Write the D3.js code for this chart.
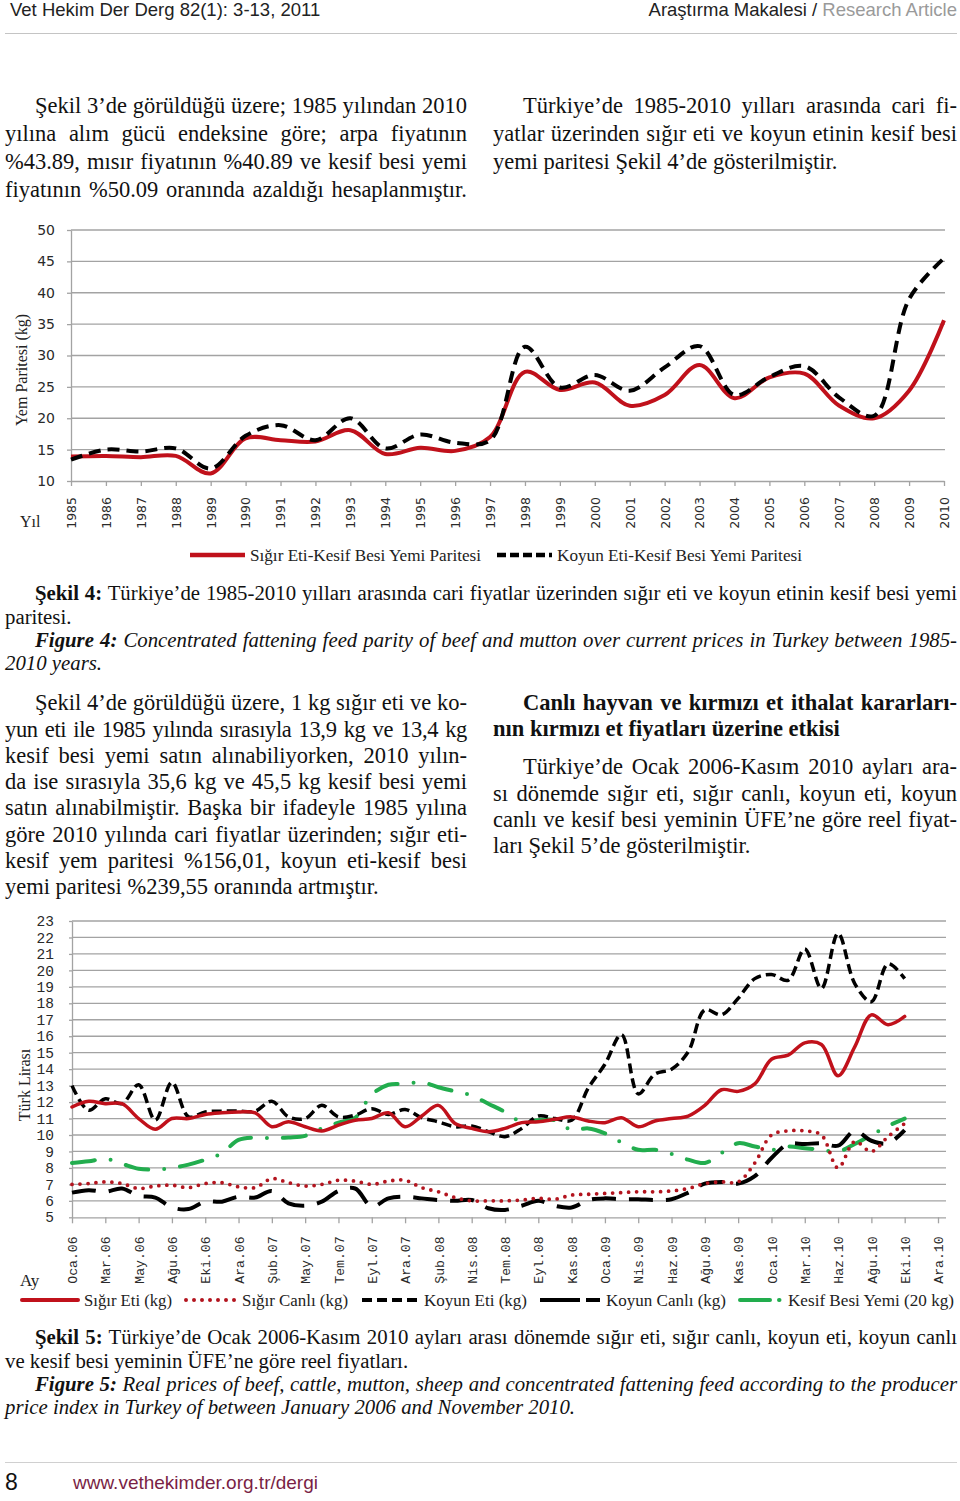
<!DOCTYPE html>
<html>
<head>
<meta charset="utf-8">
<script src="https://cdn.jsdelivr.net/npm/d3@7"></script>
<style>
  body { margin: 0; background: #fff; }
  #page { position: relative; width: 960px; height: 1501px; overflow: hidden; font-family: "Liberation Serif", serif; color: #111; }
  #page svg { position: absolute; left: 0; top: 0; }
  .ln { position: absolute; font-size: 22.5px; line-height: 22px; text-align: justify; text-align-last: justify; }
  .lf { text-align-last: left; }
  .cap { font-size: 20.8px; line-height: 20px; }
  .hd { position: absolute; font-family: "Liberation Sans", sans-serif; font-size: 18.5px; line-height: 18px; color: #222; }
  .rule { position: absolute; left: 5px; width: 952px; height: 0; border-top: 1.5px solid #c4c4c4; }
</style>
</head>
<body>
<div id="page">
  <div class="hd" style="left:10px;top:1px">Vet Hekim Der Derg 82(1): 3-13, 2011</div>
  <div class="hd" style="right:3px;top:1px">Araştırma Makalesi / <span style="color:#9a9a9a">Research Article</span></div>
  <div class="rule" style="top:33px"></div>

  <div class="ln" style="left:35px;width:432px;top:95px">Şekil 3’de görüldüğü üzere; 1985 yılından 2010</div>
  <div class="ln" style="left:5px;width:462px;top:123px">yılına alım gücü endeksine göre; arpa fiyatının</div>
  <div class="ln" style="left:5px;width:462px;top:151px">%43.89, mısır fiyatının %40.89 ve kesif besi yemi</div>
  <div class="ln" style="left:5px;width:462px;top:179px">fiyatının %50.09 oranında azaldığı hesaplanmıştır.</div>

  <div class="ln" style="left:523px;width:434px;top:95px">Türkiye’de 1985-2010 yılları arasında cari fi-</div>
  <div class="ln" style="left:493px;width:464px;top:123px">yatlar üzerinden sığır eti ve koyun etinin kesif besi</div>
  <div class="ln lf" style="left:493px;width:464px;top:151px">yemi paritesi Şekil 4’de gösterilmiştir.</div>

  <div class="ln cap" style="left:35px;width:922px;top:583px"><b>Şekil 4:</b> Türkiye’de 1985-2010 yılları arasında cari fiyatlar üzerinden sığır eti ve koyun etinin kesif besi yemi</div>
  <div class="ln cap lf" style="left:5px;width:952px;top:607px">paritesi.</div>
  <div class="ln cap" style="left:35px;width:922px;top:630px"><i><b>Figure 4:</b> Concentrated fattening feed parity of beef and mutton over current prices in Turkey between 1985-</i></div>
  <div class="ln cap lf" style="left:5px;width:952px;top:653px"><i>2010 years.</i></div>

  <div class="ln" style="left:35px;width:432px;top:692px">Şekil 4’de görüldüğü üzere, 1 kg sığır eti ve ko-</div>
  <div class="ln" style="left:5px;width:462px;top:719px;letter-spacing:-0.35px">yun eti ile 1985 yılında sırasıyla 13,9 kg ve 13,4 kg</div>
  <div class="ln" style="left:5px;width:462px;top:745px">kesif besi yemi satın alınabiliyorken, 2010 yılın-</div>
  <div class="ln" style="left:5px;width:462px;top:771px">da ise sırasıyla 35,6 kg ve 45,5 kg kesif besi yemi</div>
  <div class="ln" style="left:5px;width:462px;top:797px">satın alınabilmiştir. Başka bir ifadeyle 1985 yılına</div>
  <div class="ln" style="left:5px;width:462px;top:824px">göre 2010 yılında cari fiyatlar üzerinden; sığır eti-</div>
  <div class="ln" style="left:5px;width:462px;top:850px">kesif yem paritesi %156,01, koyun eti-kesif besi</div>
  <div class="ln lf" style="left:5px;width:462px;top:876px">yemi paritesi %239,55 oranında artmıştır.</div>

  <div class="ln" style="left:523px;width:434px;top:692px"><b>Canlı hayvan ve kırmızı et ithalat kararları-</b></div>
  <div class="ln lf" style="left:493px;width:464px;top:718px"><b>nın kırmızı et fiyatları üzerine etkisi</b></div>
  <div class="ln" style="left:523px;width:434px;top:756px">Türkiye’de Ocak 2006-Kasım 2010 ayları ara-</div>
  <div class="ln" style="left:493px;width:464px;top:783px">sı dönemde sığır eti, sığır canlı, koyun eti, koyun</div>
  <div class="ln" style="left:493px;width:464px;top:809px">canlı ve kesif besi yeminin ÜFE’ne göre reel fiyat-</div>
  <div class="ln lf" style="left:493px;width:464px;top:835px">ları Şekil 5’de gösterilmiştir.</div>

  <div class="ln cap" style="left:35px;width:922px;top:1327px"><b>Şekil 5:</b> Türkiye’de Ocak 2006-Kasım 2010 ayları arası dönemde sığır eti, sığır canlı, koyun eti, koyun canlı</div>
  <div class="ln cap lf" style="left:5px;width:952px;top:1351px">ve kesif besi yeminin ÜFE’ne göre reel fiyatları.</div>
  <div class="ln cap" style="left:35px;width:922px;top:1374px"><i><b>Figure 5:</b> Real prices of beef, cattle, mutton, sheep and concentrated fattening feed according to the producer</i></div>
  <div class="ln cap lf" style="left:5px;width:952px;top:1397px"><i>price index in Turkey of between January 2006 and November 2010.</i></div>

  <div class="rule" style="top:1462px;border-top-color:#d0d0d0"></div>
  <div class="hd" style="left:5px;top:1471px;font-size:23px;line-height:23px;color:#111">8</div>
  <div class="hd" style="left:73px;top:1474px;font-size:19px;color:#7a1f45">www.vethekimder.org.tr/dergi</div>
</div>

<script>
// Şekil 4 - yem paritesi (kg)
let years = ["1985","1986","1987","1988","1989","1990","1991","1992","1993","1994","1995","1996","1997",
             "1998","1999","2000","2001","2002","2003","2004","2005","2006","2007","2008","2009","2010"];
let sigirParite = [13.9, 14.0, 13.8, 14.0, 11.2, 16.8, 16.5, 16.3, 18.1, 14.3, 15.3, 14.8, 17.0,
                   27.4, 24.5, 25.7, 22.0, 23.7, 28.5, 23.2, 26.5, 27.1, 22.0, 20.0, 24.4, 35.6];
let koyunParite = [13.4, 15.0, 14.7, 15.2, 12.0, 17.2, 18.9, 16.5, 20.0, 15.2, 17.4, 16.1, 16.5,
                   31.4, 24.9, 26.9, 24.4, 28.1, 31.5, 23.7, 26.6, 28.3, 23.3, 20.4, 39.0, 45.5];
let parityTicks = [10, 15, 20, 25, 30, 35, 40, 45, 50];

// Şekil 5 - reel fiyatlar (TL)
let monthLabels = ["Oca.06","Mar.06","May.06","Ağu.06","Eki.06","Ara.06","Şub.07","May.07","Tem.07","Eyl.07",
                   "Ara.07","Şub.08","Nis.08","Tem.08","Eyl.08","Kas.08","Oca.09","Nis.09","Haz.09","Ağu.09",
                   "Kas.09","Oca.10","Mar.10","Haz.10","Ağu.10","Eki.10","Ara.10"];
let sigirEti = [11.7, 12.05, 11.9, 11.9, 11.0, 10.35, 11.0, 11.0, 11.25, 11.35,
                11.4, 11.35, 10.5, 10.8, 10.5, 10.25, 10.6, 10.9, 11.0, 11.35,
                10.5, 11.15, 11.8, 10.7, 10.4, 10.2, 10.4, 10.75, 10.8, 10.95,
                11.1, 10.85, 10.75, 11.05, 10.5, 10.85, 11.0, 11.15, 11.8, 12.75,
                12.65, 13.1, 14.6, 14.85, 15.6, 15.5, 13.6, 15.35, 17.3, 16.7,
                17.2];
let sigirCanli = [7.0, 7.05, 7.15, 7.05, 6.75, 6.9, 6.95, 6.8, 7.05, 7.1,
                  6.85, 6.8, 7.35, 7.1, 6.9, 7.0, 7.25, 7.2, 7.0, 7.2,
                  7.25, 6.8, 6.55, 6.2, 6.0, 6.0, 6.0, 6.05, 6.15, 6.1,
                  6.35, 6.4, 6.45, 6.5, 6.55, 6.55, 6.6, 6.75, 7.05, 7.15,
                  7.15, 8.3, 10.0, 10.25, 10.25, 10.0, 8.0, 9.6, 9.0, 9.9,
                  10.7];
let koyunEti = [13.0, 11.5, 12.2, 11.9, 13.05, 10.9, 13.2, 11.1, 11.4, 11.45,
                11.45, 11.45, 12.05, 11.1, 11.0, 11.8, 11.1, 11.2, 11.6, 11.25,
                11.55, 11.05, 10.8, 10.5, 10.55, 10.2, 9.9, 10.4, 11.15, 11.0,
                10.9, 12.85, 14.3, 16.1, 12.5, 13.7, 14.0, 15.05, 17.6, 17.3,
                18.3, 19.5, 19.75, 19.4, 21.3, 18.9, 22.25, 19.2, 18.1, 20.4,
                19.5];
let koyunCanli = [6.5, 6.65, 6.55, 6.75, 6.3, 6.2, 5.6, 5.5, 5.95, 5.95,
                  6.25, 6.2, 6.6, 5.85, 5.7, 5.95, 6.6, 6.75, 5.65, 6.15,
                  6.25, 6.15, 6.05, 6.0, 6.05, 5.55, 5.45, 5.7, 6.0, 5.7,
                  5.6, 6.05, 6.15, 6.1, 6.1, 6.05, 6.1, 6.5, 7.05, 7.15,
                  7.05, 7.5, 8.6, 9.45, 9.45, 9.5, 9.35, 10.25, 9.65, 9.5,
                  10.3];
let kesifYem = [8.3, 8.4, 8.55, 8.25, 7.95, 7.9, 8.0, 8.2, 8.5, 8.9,
                9.7, 9.85, 9.8, 9.85, 9.95, 10.4, 10.75, 11.05, 12.45, 13.05,
                13.1, 13.2, 12.9, 12.65, 12.4, 11.9, 11.4, 10.8, 10.9, 10.9,
                10.3, 10.4, 10.1, 9.55, 9.1, 9.1, 8.85, 8.5, 8.3, 8.9,
                9.5, 9.3, 9.1, 9.3, 9.2, 9.1, 9.0, 9.45, 10.0, 10.55,
                11.0];
let liraTicks = [5, 6, 7, 8, 9, 10, 11, 12, 13, 14, 15, 16, 17, 18, 19, 20, 21, 22, 23];

let gridColor = "#a3a3a3";

let svg = d3.select("#page")
  .insert("svg", ":first-child")
  .attr("width", 960)
  .attr("height", 1501);

function styleAxis(g, family, size) {
  g.attr("font-family", family).attr("font-size", size);
  g.select(".domain").attr("stroke", gridColor).attr("stroke-width", 1.3);
  g.selectAll(".tick line").attr("stroke", gridColor).attr("stroke-width", 1.3);
  g.selectAll(".tick text").attr("fill", "#2a2a2a");
}

// ---------- Şekil 4 ----------
let c1 = svg.append("g");
let x1 = d3.scalePoint().domain(years).range([71, 944]);
let y1 = d3.scaleLinear().domain([10, 50]).range([481, 230]);

c1.selectAll(".grid1")
  .data(parityTicks.slice(1))
  .enter().append("line")
  .attr("x1", 71).attr("x2", 945)
  .attr("y1", d => y1(d)).attr("y2", d => y1(d))
  .attr("stroke", gridColor).attr("stroke-width", 1.3);

let yAxis1 = c1.append("g")
  .attr("transform", "translate(71,0)")
  .call(d3.axisLeft(y1).tickValues(parityTicks).tickSize(4).tickSizeOuter(0).tickPadding(12));
styleAxis(yAxis1, "DejaVu Sans", 14);

let xAxis1 = c1.append("g")
  .attr("transform", "translate(0," + y1(10) + ")")
  .call(d3.axisBottom(x1).tickSize(5).tickSizeOuter(0));
styleAxis(xAxis1, "DejaVu Sans", 12.5);
xAxis1.selectAll(".tick text")
  .attr("transform", "rotate(-90)")
  .attr("x", -16).attr("y", 0).attr("dy", "0.35em")
  .style("text-anchor", "end");

c1.append("text")
  .attr("transform", "translate(27,370) rotate(-90)")
  .attr("text-anchor", "middle")
  .attr("font-size", 16)
  .attr("fill", "#222")
  .text("Yem Paritesi (kg)");
c1.append("text")
  .attr("x", 20).attr("y", 527)
  .attr("font-size", 16)
  .attr("fill", "#222")
  .text("Yıl");

let line1 = d3.line()
  .x((d, i) => x1(years[i]))
  .y(d => y1(d))
  .curve(d3.curveCatmullRom);

c1.append("path")
  .datum(sigirParite)
  .attr("fill", "none")
  .attr("stroke", "#c0111b")
  .attr("stroke-width", 4)
  .attr("d", line1);

c1.append("path")
  .datum(koyunParite)
  .attr("fill", "none")
  .attr("stroke", "#000")
  .attr("stroke-width", 4)
  .attr("stroke-dasharray", "12 7")
  .attr("d", line1);

// legend
let leg1 = [
  {label: "Sığır Eti-Kesif Besi Yemi Paritesi", color: "#c0111b", dash: null, x: 190, tw: 231},
  {label: "Koyun Eti-Kesif Besi Yemi Paritesi", color: "#000", dash: "9 4", x: 497, tw: 245}
];
leg1.forEach(function(d) {
  c1.append("line")
    .attr("x1", d.x).attr("x2", d.x + 55)
    .attr("y1", 555).attr("y2", 555)
    .attr("stroke", d.color).attr("stroke-width", 4.5)
    .attr("stroke-dasharray", d.dash);
  c1.append("text")
    .attr("x", d.x + 60).attr("y", 561)
    .attr("font-size", 16)
    .attr("textLength", d.tw).attr("lengthAdjust", "spacingAndGlyphs")
    .attr("fill", "#222")
    .text(d.label);
});

// ---------- Şekil 5 ----------
let c2 = svg.append("g");
let x2 = d3.scaleLinear().domain([0, 52]).range([72, 938]);
let y2 = d3.scaleLinear().domain([5, 23]).range([1217.3, 921]);

c2.selectAll(".grid2")
  .data(liraTicks.slice(1))
  .enter().append("line")
  .attr("x1", 72).attr("x2", 946)
  .attr("y1", d => y2(d)).attr("y2", d => y2(d))
  .attr("stroke", gridColor).attr("stroke-width", 1.3);

let yAxis2 = c2.append("g")
  .attr("transform", "translate(72,0)")
  .call(d3.axisLeft(y2).tickValues(liraTicks).tickSize(3).tickSizeOuter(0).tickPadding(15));
styleAxis(yAxis2, "Liberation Mono", 14.5);

let monthPos = monthLabels.map((m, k) => k * 2);
let xAxis2 = c2.append("g")
  .attr("transform", "translate(0," + y2(5) + ")")
  .call(d3.axisBottom(x2).tickValues(monthPos).tickFormat((d, k) => monthLabels[k]).tickSize(6).tickSizeOuter(0));
styleAxis(xAxis2, "Liberation Mono", 13.2);
xAxis2.select(".domain").attr("d", "M72,0.5H946");
xAxis2.selectAll(".tick text")
  .attr("transform", "rotate(-90)")
  .attr("x", -19).attr("y", 0).attr("dy", "0.35em")
  .style("text-anchor", "end");

c2.append("text")
  .attr("transform", "translate(30,1085) rotate(-90)")
  .attr("text-anchor", "middle")
  .attr("font-size", 16)
  .attr("fill", "#222")
  .text("Türk Lirası");
c2.append("text")
  .attr("x", 20).attr("y", 1286)
  .attr("font-size", 17)
  .attr("fill", "#222")
  .text("Ay");

let series5 = [
  {label: "Kesif Besi Yemi (20 kg)", values: kesifYem, color: "#22ad4e", dash: "23 16 0 16", width: 4, cap: "round", key: "30 9 0.5 30"},
  {label: "Koyun Canlı (kg)", values: koyunCanli, color: "#000", dash: "24 13", width: 4, cap: "butt", key: "40 6 14"},
  {label: "Koyun Eti (kg)", values: koyunEti, color: "#000", dash: "10 5", width: 3.5, cap: "butt", key: "10 5"},
  {label: "Sığır Canlı (kg)", values: sigirCanli, color: "#b3141e", dash: "0 8", width: 3.8, cap: "round", key: "0 8"},
  {label: "Sığır Eti (kg)", values: sigirEti, color: "#c0111b", dash: null, width: 3.5, cap: "round", key: null}
];

let line2 = d3.line()
  .x((d, i) => x2(i))
  .y(d => y2(d))
  .curve(d3.curveCatmullRom);

series5.forEach(function(s) {
  c2.append("path")
    .datum(s.values)
    .attr("fill", "none")
    .attr("stroke", s.color)
    .attr("stroke-width", s.width)
    .attr("stroke-linecap", s.cap)
    .attr("stroke-dasharray", s.dash)
    .attr("d", line2);
});

// legend
let leg2 = [
  {s: series5[4], x: 22, len: 56, tw: 88},
  {s: series5[3], x: 186, len: 50, tw: 106},
  {s: series5[2], x: 362, len: 56, tw: 103},
  {s: series5[1], x: 540, len: 60, tw: 120},
  {s: series5[0], x: 740, len: 42, tw: 166}
];
leg2.forEach(function(d) {
  c2.append("line")
    .attr("x1", d.x).attr("x2", d.x + d.len)
    .attr("y1", 1300).attr("y2", 1300)
    .attr("stroke", d.s.color).attr("stroke-width", 4)
    .attr("stroke-linecap", d.s.cap)
    .attr("stroke-dasharray", d.s.key);
  c2.append("text")
    .attr("x", d.x + d.len + 6).attr("y", 1306)
    .attr("font-size", 16)
    .attr("textLength", d.tw).attr("lengthAdjust", "spacingAndGlyphs")
    .attr("fill", "#222")
    .text(d.s.label);
});
</script>
</body>
</html>
